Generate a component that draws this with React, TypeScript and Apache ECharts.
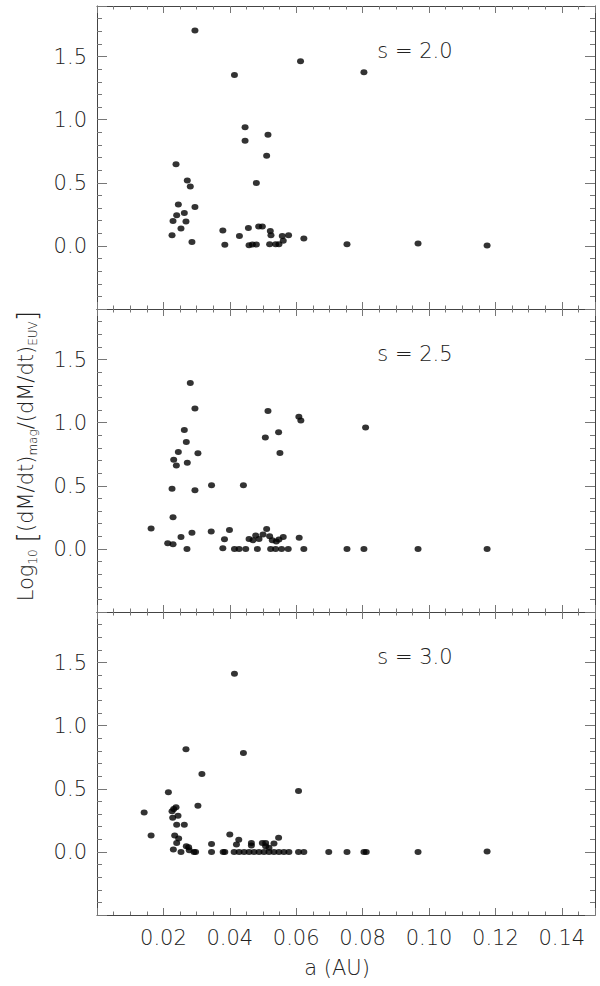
import React, { useEffect, useRef } from "react";
import * as echarts from "echarts";

// a (AU), log10 ratio
const pointsS20: number[][] = [
  [0.0295, 1.706], [0.0414, 1.354], [0.0613, 1.462], [0.0804, 1.376],
  [0.0446, 0.94], [0.0446, 0.832], [0.0515, 0.88], [0.0511, 0.714], [0.048, 0.499],
  [0.0238, 0.646], [0.0272, 0.517], [0.0281, 0.47], [0.0245, 0.328], [0.0295, 0.307],
  [0.024, 0.242], [0.0263, 0.26], [0.0229, 0.197], [0.0268, 0.194], [0.0253, 0.137],
  [0.0226, 0.084], [0.0286, 0.031],
  [0.0379, 0.121], [0.0385, 0.008], [0.0429, 0.079], [0.0456, 0.142], [0.0487, 0.153],
  [0.0498, 0.153], [0.0458, 0.005], [0.0468, 0.01], [0.048, 0.01],
  [0.0522, 0.118], [0.0524, 0.084], [0.052, 0.013], [0.0538, 0.013], [0.0548, 0.013],
  [0.0561, 0.04], [0.0558, 0.079], [0.0577, 0.084],
  [0.0623, 0.058], [0.0753, 0.013], [0.0967, 0.019], [0.1175, 0.003],
];

const pointsS25: number[][] = [
  [0.0281, 1.313], [0.0295, 1.112], [0.0263, 0.941], [0.0269, 0.846], [0.0245, 0.767],
  [0.0231, 0.706], [0.0239, 0.661], [0.0272, 0.683], [0.0304, 0.757],
  [0.0226, 0.477], [0.0295, 0.464], [0.0345, 0.503], [0.0441, 0.503],
  [0.0229, 0.25], [0.0163, 0.161], [0.0213, 0.044], [0.0229, 0.036], [0.0253, 0.095],
  [0.0271, 0.0], [0.0286, 0.127], [0.0344, 0.137],
  [0.0379, 0.005], [0.0384, 0.076], [0.0399, 0.15], [0.0414, 0], [0.0428, 0], [0.0448, 0],
  [0.0458, 0.079], [0.047, 0.068], [0.0478, 0.105], [0.0488, 0.079], [0.05, 0.113],
  [0.0511, 0.158], [0.052, 0.1], [0.0528, 0.068], [0.054, 0.058], [0.0548, 0.074],
  [0.0561, 0.095], [0.0609, 0.089],
  [0.0483, 0], [0.0523, 0], [0.0538, 0], [0.0556, 0], [0.0576, 0], [0.0623, 0],
  [0.0515, 1.092], [0.0507, 0.883], [0.0547, 0.923], [0.0551, 0.759], [0.0608, 1.047],
  [0.0614, 1.017],
  [0.0809, 0.962], [0.0753, 0], [0.0804, 0], [0.0967, 0], [0.1175, 0],
];

const pointsS30: number[][] = [
  [0.0142, 0.311], [0.0163, 0.129], [0.0215, 0.472], [0.0268, 0.812], [0.0316, 0.617],
  [0.0304, 0.366], [0.0441, 0.783], [0.0607, 0.483], [0.0414, 1.41],
  [0.0226, 0.321], [0.0231, 0.34], [0.0238, 0.353], [0.0228, 0.271], [0.0244, 0.287],
  [0.024, 0.214], [0.0263, 0.214], [0.0234, 0.129], [0.0246, 0.105], [0.024, 0.071],
  [0.023, 0.018], [0.0253, 0], [0.0269, 0.044], [0.0276, 0.036], [0.0278, 0.013],
  [0.0292, 0], [0.0297, 0],
  [0.0345, 0.063], [0.0345, 0], [0.038, 0], [0.0385, 0], [0.04, 0.137], [0.042, 0.058],
  [0.0427, 0.097],
  [0.0413, 0], [0.0428, 0], [0.0443, 0], [0.0458, 0], [0.0473, 0], [0.0488, 0], [0.0503, 0],
  [0.0518, 0], [0.0533, 0], [0.0548, 0], [0.0563, 0], [0.0578, 0],
  [0.0465, 0.071], [0.0465, 0.05], [0.0498, 0.071], [0.0508, 0.071], [0.0508, 0.044],
  [0.0533, 0.066], [0.0547, 0.111], [0.0518, 0.032],
  [0.0607, 0], [0.0623, 0], [0.0698, 0], [0.0753, 0], [0.0804, 0], [0.0811, 0],
  [0.0967, 0], [0.1175, 0.003],
];

const panelLabels = ["s = 2.0", "s = 2.5", "s = 3.0"];
const xTickLabels = ["0.02", "0.04", "0.06", "0.08", "0.10", "0.12", "0.14"];
const yTickLabels = ["0.0", "0.5", "1.0", "1.5"];

const FONT = "DejaVu Sans";
const LINE = "#444";
const TICK = "#777";
const TEXT = "#222";

export default function App() {
  const ref = useRef<HTMLDivElement>(null);
  useEffect(() => {
    if (!ref.current) return;
    const chart = echarts.init(ref.current, null, { renderer: "svg" });
    const panels = [pointsS20, pointsS25, pointsS30];
    const gridTops = [6, 309, 612];
    const gridH = 303;
    const grids = gridTops.map((t) => ({ left: 97, top: t, width: 498, height: gridH }));

    const xAxes: any[] = [];
    const yAxes: any[] = [];
    panels.forEach((_, g) => {
      const isLast = g === panels.length - 1;
      const baseX = { type: "value", gridIndex: g, min: 0, max: 0.15, splitLine: { show: false } };
      const xLine = { show: true, onZero: false, lineStyle: { color: LINE, width: 1 } };
      const noLine = { show: false, onZero: false };
      xAxes.push({
        ...baseX,
        position: "bottom",
        interval: 0.02,
        axisLine: xLine,
        axisTick: { show: true, inside: true, length: 7, lineStyle: { color: TICK } },
        axisLabel: {
          show: isLast,
          margin: 12,
          fontFamily: FONT,
          fontWeight: 200,
          fontSize: 21,
          color: TEXT,
          showMinLabel: true,
          showMaxLabel: true,
          formatter: (v: number) => {
            const s = v.toFixed(2);
            return xTickLabels.includes(s) ? s : "";
          },
        },
      });
      xAxes.push({
        ...baseX,
        position: "bottom",
        interval: 0.005,
        axisLine: noLine,
        axisTick: { show: true, inside: true, length: 3.5, lineStyle: { color: TICK } },
        axisLabel: { show: false },
      });
      xAxes.push({
        ...baseX,
        position: "top",
        interval: 0.02,
        axisLine: xLine,
        axisTick: { show: true, inside: true, length: 7, lineStyle: { color: TICK } },
        axisLabel: { show: false },
      });
      xAxes.push({
        ...baseX,
        position: "top",
        interval: 0.005,
        axisLine: noLine,
        axisTick: { show: true, inside: true, length: 3.5, lineStyle: { color: TICK } },
        axisLabel: { show: false },
      });

      const baseY = { type: "value", gridIndex: g, min: -0.5, max: 1.9, splitLine: { show: false } };
      yAxes.push({
        ...baseY,
        position: "left",
        interval: 0.5,
        axisLine: xLine,
        axisTick: { show: true, inside: true, length: 10, lineStyle: { color: TICK } },
        axisLabel: {
          show: true,
          margin: 10,
          fontFamily: FONT,
          fontWeight: 200,
          fontSize: 21,
          color: TEXT,
          formatter: (v: number) => {
            const s = v.toFixed(1);
            return yTickLabels.includes(s) ? s : "";
          },
        },
      });
      yAxes.push({
        ...baseY,
        position: "left",
        interval: 0.1,
        axisLine: noLine,
        axisTick: { show: true, inside: true, length: 5, lineStyle: { color: TICK } },
        axisLabel: { show: false },
      });
      yAxes.push({
        ...baseY,
        position: "right",
        interval: 0.5,
        axisLine: xLine,
        axisTick: { show: true, inside: true, length: 10, lineStyle: { color: TICK } },
        axisLabel: { show: false },
      });
      yAxes.push({
        ...baseY,
        position: "right",
        interval: 0.1,
        axisLine: noLine,
        axisTick: { show: true, inside: true, length: 5, lineStyle: { color: TICK } },
        axisLabel: { show: false },
      });
    });

    const series = panels.map((pts, g) => ({
      type: "scatter",
      xAxisIndex: g * 4,
      yAxisIndex: g * 4,
      data: pts,
      symbol: "path://M0,5a5,5 0 1,0 10,0a5,5 0 1,0 -10,0",
      symbolSize: [7, 6],
      itemStyle: { color: "#000" },
      silent: true,
    }));

    const graphic: any[] = panelLabels.map((t, g) => ({
      type: "text",
      x: 415,
      y: gridTops[g] + 45,
      style: {
        text: t,
        fontFamily: FONT,
        fontWeight: 200,
        fontSize: 21,
        fill: TEXT,
        align: "center",
        verticalAlign: "middle",
      },
    }));
    graphic.push({
      type: "text",
      x: 337,
      y: 968,
      style: {
        text: "a (AU)",
        fontFamily: FONT,
        fontWeight: 200,
        fontSize: 21,
        fill: TEXT,
        align: "center",
        verticalAlign: "middle",
      },
    });
    graphic.push({
      type: "text",
      x: 26,
      y: 456,
      rotation: Math.PI / 2,
      style: {
        text: "{m|Log}{s|10}{m| }{b|[}{m|(dM/dt)}{s|mag}{m|/(dM/dt)}{s|EUV}{b|]}",
        fontFamily: FONT,
        fontWeight: 200,
        fill: TEXT,
        align: "center",
        verticalAlign: "middle",
        rich: {
          m: { fontFamily: FONT, fontWeight: 200, fontSize: 21, lineHeight: 26, fill: TEXT, color: TEXT },
          s: { fontFamily: FONT, fontWeight: 200, fontSize: 12, lineHeight: 12, verticalAlign: "bottom", fill: TEXT, color: TEXT },
          b: { fontFamily: FONT, fontWeight: 200, fontSize: 27, lineHeight: 26, fill: TEXT, color: TEXT },
        },
      },
    });

    chart.setOption({
      animation: false,
      backgroundColor: "#fff",
      grid: grids,
      xAxis: xAxes,
      yAxis: yAxes,
      series,
      graphic,
    });
    return () => chart.dispose();
  }, []);
  return (
    <div
      ref={ref}
      style={{ position: "absolute", left: 0, top: 0, width: 600, height: 986 }}
    />
  );
}
